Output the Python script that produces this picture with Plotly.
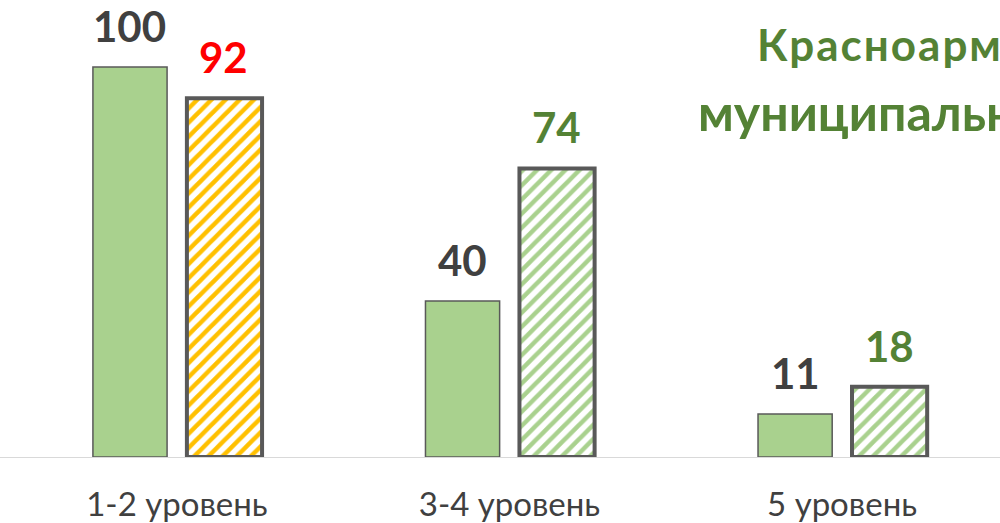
import plotly.graph_objects as go

categories = ["1-2 уровень", "3-4 уровень", "5 уровень"]
values_a = [100, 40, 11]
values_b = [92, 74, 18]
stripe_colors_b = ["#ffc000", "#a9d18e", "#a9d18e"]
label_colors_b = ["#ff0000", "#548235", "#548235"]
title_lines = ["Красноармейский", "муниципальный район"]

FONT = "Lato, Open Sans, sans-serif"

fig = go.Figure()

# solid bars
fig.add_trace(go.Bar(
    x=categories, y=values_a,
    offset=-0.2526, width=0.223,
    marker=dict(color="#a9d18e", line=dict(color="#595959", width=1.5)),
    showlegend=False, hoverinfo="skip",
))

# hatched bars
fig.add_trace(go.Bar(
    x=categories, y=values_b,
    offset=0.03, width=0.226,
    marker=dict(
        color="white",
        line=dict(color="#595959", width=4),
        pattern=dict(shape="/", fgcolor=stripe_colors_b, bgcolor="white",
                     size=10, solidity=0.45, fillmode="replace"),
    ),
    showlegend=False, hoverinfo="skip",
))

# value labels
for cat, v in zip(categories, values_a):
    fig.add_annotation(x=cat, y=v, xref="x", yref="y", text=str(v),
                       showarrow=False, xshift=-47, yshift=14, yanchor="bottom",
                       font=dict(family=FONT, size=42, color="#404040", weight="bold"))
for cat, v, c in zip(categories, values_b, label_colors_b):
    fig.add_annotation(x=cat, y=v, xref="x", yref="y", text=str(v),
                       showarrow=False, xshift=47, yshift=14, yanchor="bottom",
                       font=dict(family=FONT, size=42, color=c, weight="bold"))

# title, cut off at the right edge like the original
fig.add_annotation(x=0.755, y=(457 - 44) / 457, xref="paper", yref="paper",
                   text='<span style="letter-spacing:2px">' + title_lines[0] + '</span>',
                   showarrow=False, xanchor="left", yanchor="middle",
                   font=dict(family=FONT, size=44, color="#548235", weight="bold"))
fig.add_annotation(x=0.696, y=(457 - 112) / 457, xref="paper", yref="paper",
                   text=title_lines[1],
                   showarrow=False, xanchor="left", yanchor="middle",
                   font=dict(family=FONT, size=50, color="#548235", weight="bold"))

fig.update_layout(
    width=1000, height=523,
    margin=dict(l=0, r=0, t=0, b=66),
    plot_bgcolor="white", paper_bgcolor="white",
    barmode="group",
)
fig.update_xaxes(range=[-0.532, 2.475], showline=True, linecolor="#d9d9d9", linewidth=1,
                 showgrid=False, ticks="", ticklabelstandoff=18,
                 tickfont=dict(family=FONT, size=33, color="#404040"))
fig.update_yaxes(range=[0, 117.18], visible=False, showgrid=False, zeroline=False)

fig.write_html("out.html", config={"displayModeBar": False},
               post_script="document.body.style.margin='0';")
